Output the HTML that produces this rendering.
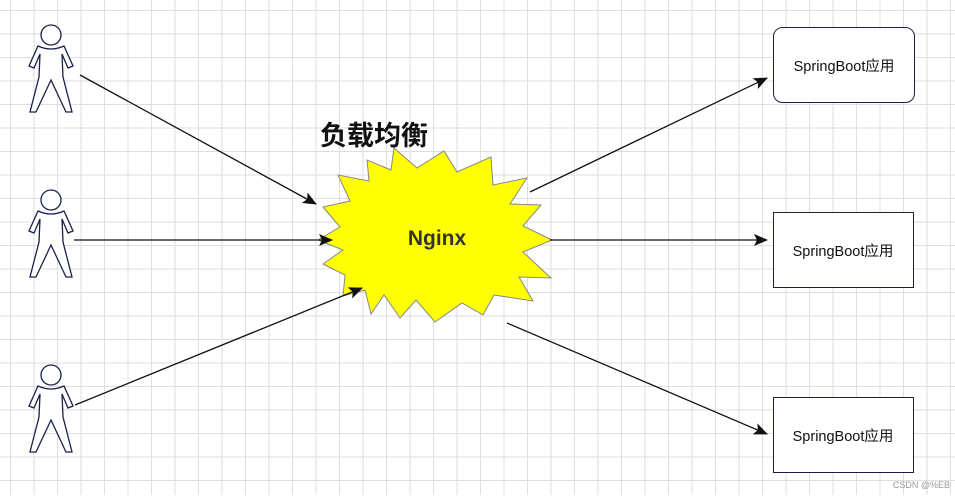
<!DOCTYPE html>
<html><head><meta charset="utf-8"><style>
body{margin:0;width:955px;height:495px;overflow:hidden;background:#fff;}
</style></head><body>
<svg width="955" height="495" xmlns="http://www.w3.org/2000/svg">
<defs>
<pattern id="g" width="23.5" height="23.5" patternUnits="userSpaceOnUse" x="10" y="10">
<path d="M0 0.5H23.5M0.5 0V23.5" stroke="#dedede" stroke-width="1" fill="none"/>
</pattern>
<marker id="a" markerWidth="14" markerHeight="12" refX="13" refY="6" orient="auto" markerUnits="userSpaceOnUse" viewBox="0 0 14 12">
<path d="M0 0L14 6L0 12L3 6Z" fill="#111"/>
</marker>
<g id="p" fill="#fff" stroke="#1a1f4a" stroke-width="1.3">
<circle cx="0" cy="0" r="10"/>
<path d="M-13 11 Q0 17 13 11 L22 31 L17 33 L11 19 L12 42 L21 77 L15 77 L0 45 L-15 77 L-21 77 L-12 42 L-11 19 L-17 33 L-22 31 Z"/>
</g>
</defs>
<rect width="955" height="495" fill="url(#g)"/>
<use href="#p" x="51" y="35"/>
<use href="#p" x="51" y="200"/>
<use href="#p" x="51" y="375"/>
<polygon fill="#ffff00" stroke="#888" stroke-width="1" points="444,151 457,172 491,157 493,185 527,178 510,204 541,205 523,226 552,240 523,252 551,278 519,277 533,301 494,295 483,315 462,303 435,322 416,300 400,318 384,295 371,314 365,290 343,296 345,275 323,264 343,250 318,240 340,227 323,207 350,201 338,175 369,181 367,160 391,170 394,148 417,168"/>
<g stroke="#111" stroke-width="1.3" marker-end="url(#a)">
<line x1="80" y1="75" x2="316" y2="204"/>
<line x1="74" y1="240" x2="332" y2="240"/>
<line x1="75" y1="405" x2="362" y2="288"/>
<line x1="530" y1="192" x2="767" y2="78"/>
<line x1="550" y1="240" x2="767" y2="240"/>
<line x1="507" y1="323" x2="767" y2="434"/>
</g>
<text x="437" y="245" text-anchor="middle" font-family="Liberation Sans, sans-serif" font-weight="bold" font-size="21" fill="#333">Nginx</text>
<text x="320" y="145" font-family="Liberation Sans, 'Noto Sans CJK SC', sans-serif" font-weight="bold" font-size="27" fill="#111">负载均衡</text>
<g fill="#fff" stroke="#1a1f4a" stroke-width="1">
<rect x="773.5" y="27.5" width="141" height="75" rx="9"/>
<rect x="773.5" y="212.5" width="140" height="75"/>
<rect x="773.5" y="397.5" width="140" height="75"/>
</g>
<g font-family="Liberation Sans, 'Noto Sans CJK SC', sans-serif" font-size="14.5" fill="#111" text-anchor="middle">
<text x="844" y="71">SpringBoot应用</text>
<text x="843" y="256">SpringBoot应用</text>
<text x="843" y="441">SpringBoot应用</text>
</g>
<text x="950" y="488" text-anchor="end" font-family="Liberation Sans, 'Noto Sans CJK SC', sans-serif" font-size="9" fill="#999">CSDN @%EB</text>
</svg>
</body></html>
